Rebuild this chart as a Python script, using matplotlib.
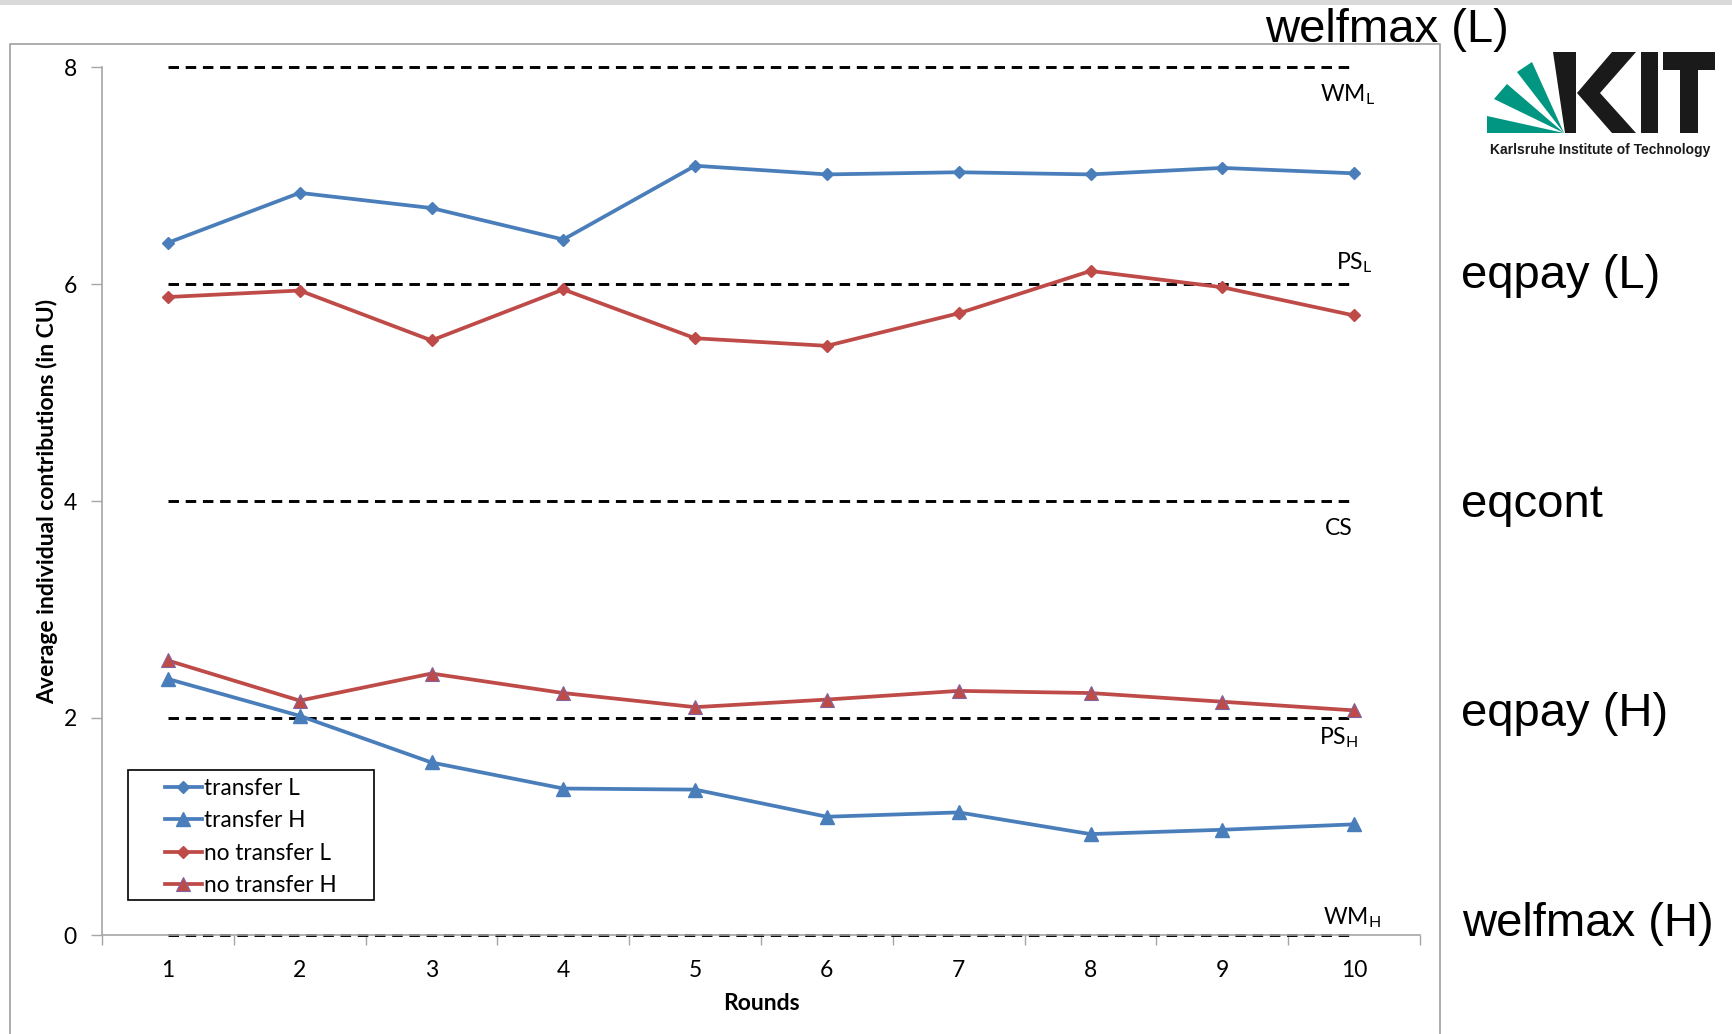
import matplotlib.pyplot as plt
from matplotlib.patches import Polygon, Rectangle

# average contribution per round, one list per treatment/type
rounds = list(range(1, 11))
transfer_l = [6.38, 6.84, 6.70, 6.41, 7.09, 7.01, 7.03, 7.01, 7.07, 7.02]
transfer_h = [2.36, 2.02, 1.59, 1.35, 1.34, 1.09, 1.13, 0.93, 0.97, 1.02]
no_transfer_l = [5.88, 5.94, 5.48, 5.95, 5.50, 5.43, 5.73, 6.12, 5.97, 5.71]
no_transfer_h = [2.53, 2.16, 2.41, 2.23, 2.10, 2.17, 2.25, 2.23, 2.15, 2.07]

series_labels = ['transfer L', 'transfer H', 'no transfer L', 'no transfer H']

# theoretical benchmarks
bench_values = [8, 6, 4, 2, 0]
bench_labels = [r'$\mathrm{WM}_{\mathrm{L}}$', r'$\mathrm{PS}_{\mathrm{L}}$', 'CS',
                r'$\mathrm{PS}_{\mathrm{H}}$', r'$\mathrm{WM}_{\mathrm{H}}$']
concept_labels = ['welfmax (L)', 'eqpay (L)', 'eqcont', 'eqpay (H)', 'welfmax (H)']

plt.rcParams['font.family'] = ['Lato', 'DejaVu Sans']
plt.rcParams['mathtext.fontset'] = 'custom'
plt.rcParams['mathtext.rm'] = 'Lato'

BLUE = '#4a7ebb'
RED = '#be4b48'
GRAY = '#a6a6a6'
W, H = 1733, 1034

fig = plt.figure(figsize=(W / 100, H / 100), dpi=100)

# pixel overlay for frame, logo and side labels
ov = fig.add_axes([0, 0, 1, 1], zorder=0)
ov.set_xlim(0, W)
ov.set_ylim(H, 0)
ov.axis('off')

ov.add_patch(Rectangle((0, 0), W, 4.5, color='#d9d9d9', lw=0))
ov.plot([10, 10, 1440, 1440], [H + 5, 44, 44, H + 5], color=GRAY, lw=1.3)

ax = fig.add_axes([102 / W, 1 - 935 / H, (1420 - 102) / W, (935 - 67) / H], zorder=1)
ax.patch.set_alpha(0)

# benchmark lines
for v in bench_values:
    ax.plot([rounds[0], rounds[-1]], [v, v], color='black', lw=2.1,
            linestyle=(0, (3.6, 2.3)), clip_on=False, zorder=2)

ax.plot(rounds, transfer_l, color=BLUE, lw=2.7, marker='D', ms=6.5,
        mec=BLUE, label=series_labels[0], zorder=3)
ax.plot(rounds, transfer_h, color=BLUE, lw=2.7, marker='^', ms=9.5,
        mec=BLUE, label=series_labels[1], zorder=3)
ax.plot(rounds, no_transfer_l, color=RED, lw=2.7, marker='D', ms=6,
        mec=RED, label=series_labels[2], zorder=3)
ax.plot(rounds, no_transfer_h, color=RED, lw=2.7, marker='^', ms=10,
        mec='#8064a2', mew=0.8, label=series_labels[3], zorder=3)

label_pos = [(9.95, 7.75), (10.0, 6.2), (9.88, 3.75), (9.88, 1.82), (9.98, 0.16)]
for (x, y), txt in zip(label_pos, bench_labels):
    ax.text(x, y, txt, fontsize=16.5, ha='center', va='center')

ax.set_xlim(0.5, 10.5)
ax.set_ylim(0, 8)
ax.set_yticks([0, 2, 4, 6, 8])
ax.set_xticks(rounds)
ax.set_xticks([r + 0.5 for r in [0] + rounds], minor=True)
ax.tick_params(axis='x', which='major', length=0, pad=18, labelsize=16.5)
ax.tick_params(axis='x', which='minor', length=7, width=1, color=GRAY, direction='out')
ax.tick_params(axis='y', length=8, width=1, color=GRAY, pad=10, labelsize=16.5)
for side in ['top', 'right']:
    ax.spines[side].set_visible(False)
for side in ['left', 'bottom']:
    ax.spines[side].set_color(GRAY)
    ax.spines[side].set_linewidth(1.2)

ax.set_xlabel('Rounds', fontsize=16.5, fontweight='bold', labelpad=9)
ax.set_ylabel('Average individual contributions (in CU)', fontsize=16.5,
              fontweight='bold', labelpad=4)

# legend with a separately drawn square frame
ov.add_patch(Rectangle((128, 770), 246, 130, fill=False, ec='black', lw=1.2))
leg = ax.legend(loc='upper left', bbox_to_anchor=(154 / W, 1 - 767 / H),
                bbox_transform=fig.transFigure, frameon=False, borderpad=0,
                handlelength=1.6, handletextpad=0.1, labelspacing=0.49,
                fontsize=16.3, numpoints=1)

# concept names on the right
concept_pos = [(1265, 30), (1461, 276), (1461, 505), (1461, 714), (1462, 924)]
for (x, y), txt in zip(concept_pos, concept_labels):
    ov.text(x, y, txt, fontsize=34, family='Liberation Sans', ha='left', va='center')

# KIT logo
GREEN = '#009682'
pivot = (1564, 133)
rays = [[(1487, 133), (1487, 116)],
        [(1494, 99), (1507, 84)],
        [(1517, 72), (1532, 62)]]
for outer in rays:
    ov.add_patch(Polygon([pivot] + outer, closed=True, fc=GREEN, ec='none'))
ink = '#1a1a1a'
ov.add_patch(Polygon([(1553, 52), (1576, 52), (1576, 133), (1565, 133)], fc=ink, ec='none'))
ov.add_patch(Polygon([(1577, 93), (1612, 52), (1636, 52), (1600, 93), (1636, 133), (1612, 133)],
                     fc=ink, ec='none'))
ov.add_patch(Rectangle((1641, 52), 17, 81, fc=ink, ec='none'))
ov.add_patch(Rectangle((1663, 52), 52, 18, fc=ink, ec='none'))
ov.add_patch(Rectangle((1680, 70), 18, 63, fc=ink, ec='none'))
ov.text(1600, 150, 'Karlsruhe Institute of Technology', fontsize=10, fontweight='bold',
        family='Liberation Sans', ha='center', va='center', color=ink)

fig.savefig('out.png', dpi=100)
